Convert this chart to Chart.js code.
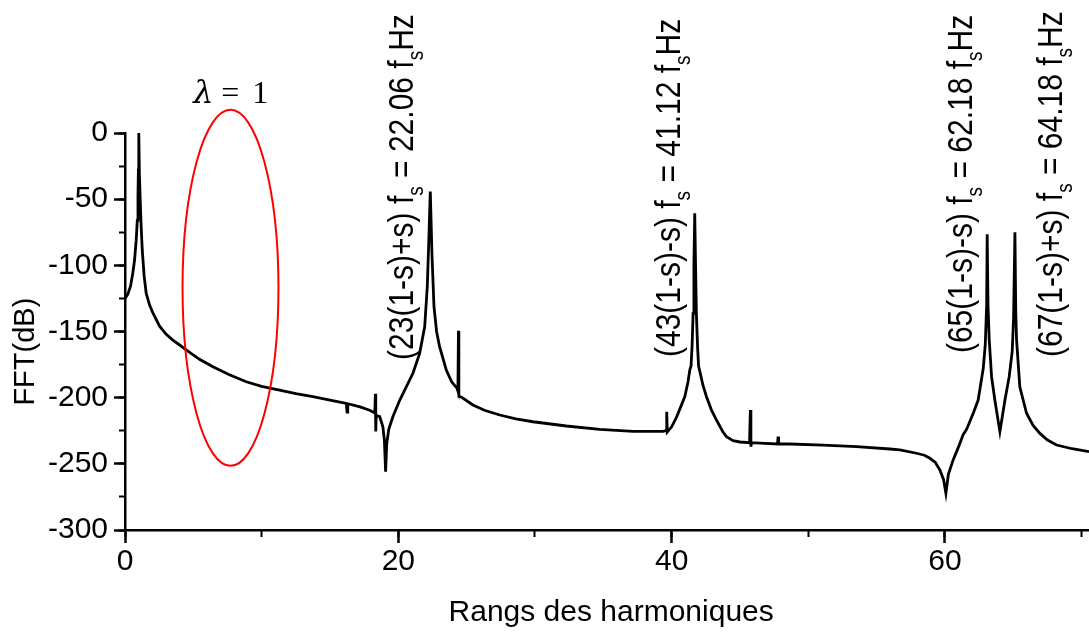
<!DOCTYPE html>
<html>
<head>
<meta charset="utf-8">
<script src="https://cdn.jsdelivr.net/npm/chart.js@4.4.0/dist/chart.umd.min.js"></script>
<style>
  html, body { margin: 0; padding: 0; background: #fff; }
  canvas { display: block; }
</style>
</head>
<body>
<canvas id="graficoFFT" width="1089" height="634"></canvas>
<script>
// rang harmonique (axe x) et amplitude FFT en dB (axe y)
const rangs = [0, 0.2, 0.4, 0.57, 0.7, 0.82, 0.9, 0.95, 0.98, 1.01,
  1.05, 1.11, 1.18, 1.26, 1.4, 1.55, 1.8, 2.04, 2.53, 3.0,
  3.5, 4.0, 4.5, 5.45, 6.43, 7.6, 8.87, 10.0, 11.31, 12.5,
  13.75, 15.0, 16.19, 16.25, 16.3, 17.2, 17.9, 18.28, 18.32, 18.35,
  18.38, 18.64, 18.87, 18.98, 19.07, 19.15, 19.3, 19.6, 20.1, 20.59,
  21.07, 21.56, 21.93, 22.12, 22.24, 22.34, 22.46, 22.61, 22.8, 23.02,
  23.51, 23.9, 24.3, 24.36, 24.4, 24.43, 24.61, 25.46, 26.3, 27.42,
  28.6, 29.85, 32.3, 34.74, 37.18, 39.37, 39.6, 39.64, 39.68, 40.0,
  40.35, 40.7, 40.96, 41.2, 41.33, 41.42, 41.5, 41.57, 41.63, 41.69,
  41.75, 41.81, 41.9, 41.97, 42.06, 42.3, 42.55, 42.9, 43.28, 43.76,
  44.01, 44.5, 45.0, 45.7, 45.76, 45.8, 45.85, 46.8, 47.75, 47.79,
  47.83, 48.65, 51.08, 53.53, 55.97, 56.7, 57.92, 58.5, 58.9, 59.3,
  59.63, 59.9, 60.07, 60.25, 60.6, 61.0, 61.33, 61.58, 62.07, 62.43,
  62.8, 62.95, 63.05, 63.09, 63.15, 63.24, 63.41, 63.65, 64.02, 64.39,
  64.7, 64.92, 65.02, 65.12, 65.18, 65.24, 65.48, 65.97, 66.45, 66.95,
  67.5, 68.17, 69.3, 70.54];

const fftDb = [-125, -122, -116, -106, -96, -81, -66, -48, -28, 0,
  -30, -50, -70, -88, -108, -121, -130, -136, -146, -152,
  -156.5, -160.2, -164, -171, -176.6, -182.5, -188, -191.5, -194.3, -197,
  -199.3, -201.8, -204.3, -211, -204.6, -207, -209.5, -211.5, -197, -225.5,
  -213.5, -214.4, -222, -232, -256, -235, -224, -214.4, -202, -191.7,
  -181.6, -166.5, -146.4, -116, -78.4, -44.3, -91, -131.3, -150, -161.5,
  -179.1, -188, -193, -195, -149.5, -199, -199.5, -205.5, -209.5, -213.1,
  -216, -218.2, -221.4, -223.9, -225.5, -225.5, -225, -210.6, -226, -222,
  -215, -206, -199.3, -188, -179, -176, -160, -136.3, -100, -60.7,
  -100, -136.3, -162, -176, -180, -191, -199.3, -209, -216.9, -226,
  -229.5, -232.5, -233.5, -234, -209.3, -237, -234, -234.5, -235, -229.5,
  -235, -235, -235.8, -237, -238.8, -239.5, -242, -243.5, -245.8, -249,
  -254.7, -262, -272.3, -258, -247, -237, -228, -224, -211.8, -201.8,
  -178, -160, -130, -76.6, -130, -156.4, -184.1, -201.8, -225.7, -201.8,
  -184.1, -165, -140, -75.1, -135, -156.4, -192, -211.8, -221, -227,
  -232, -235.8, -238.6, -240.8];

const ticksX = [0, 20, 40, 60];
const ticksXmin = [0, 10, 20, 30, 40, 50, 60, 70];
const ticksY = [0, -50, -100, -150, -200, -250, -300];
const ticksYmin = [0, -25, -50, -75, -100, -125, -150, -175, -200, -225, -250, -275, -300];

// textes des pics : "(expr) f_s = valeur f_s Hz"
const picsExpr = ["(23(1-s)+s) f", "(43(1-s)-s) f", "(65(1-s)-s) f", "(67(1-s)+s) f"];
const picsVal = ["22.06", "41.12", "62.18", "64.18"];

const police = '"Liberation Sans", Arial, sans-serif';

const annotations = {
  id: "annotations",
  afterDraw(chart, args, opts) {
    const { ctx } = chart;
    const sx = chart.scales.x, sy = chart.scales.y;
    ctx.save();

    // ellipse rouge
    const e = opts.ellipse;
    const cx = sx.getPixelForValue(e.x), cy = sy.getPixelForValue(e.y);
    const rx = sx.getPixelForValue(e.x + e.rx) - cx;
    const ry = sy.getPixelForValue(e.y - e.ry) - cy;
    ctx.beginPath();
    ctx.ellipse(cx, cy, rx, ry, 0, 0, Math.PI * 2);
    ctx.strokeStyle = "#ff0000";
    ctx.lineWidth = 2;
    ctx.stroke();

    // lambda = 1
    const lx = sx.getPixelForValue(opts.lambda.x), ly = sy.getPixelForValue(opts.lambda.y);
    ctx.fillStyle = "#000";
    ctx.textBaseline = "alphabetic";
    ctx.textAlign = "left";
    ctx.font = 'italic 32px "DejaVu Serif", "Liberation Serif", serif';
    ctx.fillText("\u03bb", lx, ly);
    ctx.font = '32px "Liberation Serif", serif';
    ctx.fillText("=", lx + 28, ly);
    ctx.fillText("1", lx + 59, ly);

    // étiquettes verticales
    opts.labels.forEach((lab, i) => {
      const px = sx.getPixelForValue(lab.x), py = sy.getPixelForValue(lab.y);
      const parts = [
        { t: picsExpr[i] },
        { t: "s", sub: true },
        { t: " = " + picsVal[i] + " f" },
        { t: "s", sub: true },
        { t: "Hz" },
      ];
      ctx.save();
      ctx.translate(px, py);
      ctx.rotate(-Math.PI / 2);
      ctx.scale(1, 1.15);
      let pos = 0;
      parts.forEach((p) => {
        ctx.font = (p.sub ? "19px " : "30px ") + police;
        ctx.fillText(p.t, pos, p.sub ? 9 : 0);
        pos += ctx.measureText(p.t).width;
      });
      ctx.restore();
    });
    ctx.restore();
  },
};

const ctx = document.getElementById("graficoFFT").getContext("2d");
new Chart(ctx, {
  type: "line",
  data: {
    datasets: [
      {
        label: "FFT",
        data: rangs.map((r, i) => ({ x: r, y: fftDb[i] })),
        borderColor: "#000",
        borderWidth: 2.8,
        pointRadius: 0,
        tension: 0,
        fill: false,
      },
    ],
  },
  options: {
    responsive: false,
    animation: false,
    devicePixelRatio: 1,
    layout: { padding: { top: 133, right: 0, left: 0, bottom: 0 } },
    plugins: {
      legend: { display: false },
      tooltip: { enabled: false },
      annotations: {
        ellipse: { x: 7.72, y: -117, rx: 3.51, ry: 134.5 },
        lambda: { x: 5.0, y: 22.7 },
        labels: [
          { x: 21.05, y: -171.5 },
          { x: 40.59, y: -169.3 },
          { x: 61.97, y: -166.3 },
          { x: 68.56, y: -169.3 },
        ],
      },
    },
    scales: {
      x: {
        type: "linear",
        position: "bottom",
        weight: 1,
        min: 0,
        max: 70.54,
        afterBuildTicks: (s) => { s.ticks = ticksX.map((v) => ({ value: v })); },
        afterFit: (s) => { s.height = 104; },
        ticks: { font: { family: police, size: 30 }, color: "#000", padding: 1, maxRotation: 0, autoSkip: false },
        grid: { drawOnChartArea: false, tickLength: 13, tickWidth: 2.5, tickColor: "#000" },
        border: { color: "#000", width: 2.5 },
        title: {
          display: true,
          text: "\u00a0Rangs des harmoniques",
          font: { family: police, size: 30 },
          color: "#000",
          padding: { top: 0, bottom: 3 },
        },
      },
      x2: {
        type: "linear",
        position: "bottom",
        weight: 0,
        min: 0,
        max: 70.54,
        afterBuildTicks: (s) => { s.ticks = ticksXmin.map((v) => ({ value: v })); },
        afterFit: (s) => { s.height = 0; },
        ticks: { display: false },
        grid: { drawOnChartArea: false, tickLength: 7, tickWidth: 2, tickColor: "#000" },
        border: { display: false },
      },
      y: {
        type: "linear",
        position: "left",
        weight: 1,
        min: -300,
        max: 0,
        afterBuildTicks: (s) => { s.ticks = ticksY.map((v) => ({ value: v })); },
        afterFit: (s) => { s.width = 125; },
        ticks: { font: { family: police, size: 30 }, color: "#000", padding: 6, autoSkip: false },
        grid: { drawOnChartArea: false, tickLength: 11, tickWidth: 2.5, tickColor: "#000" },
        border: { color: "#000", width: 2.5 },
        title: {
          display: true,
          text: "FFT(dB)\u00a0\u00a0\u00a0\u00a0\u00a0",
          font: { family: police, size: 29 },
          color: "#000",
          padding: { top: 9, bottom: 0 },
        },
      },
      y2: {
        type: "linear",
        position: "left",
        weight: 0,
        min: -300,
        max: 0,
        afterBuildTicks: (s) => { s.ticks = ticksYmin.map((v) => ({ value: v })); },
        afterFit: (s) => { s.width = 0; },
        ticks: { display: false },
        grid: { drawOnChartArea: false, tickLength: 6, tickWidth: 2, tickColor: "#000" },
        border: { display: false },
      },
    },
  },
  plugins: [annotations],
});
</script>
</body>
</html>
